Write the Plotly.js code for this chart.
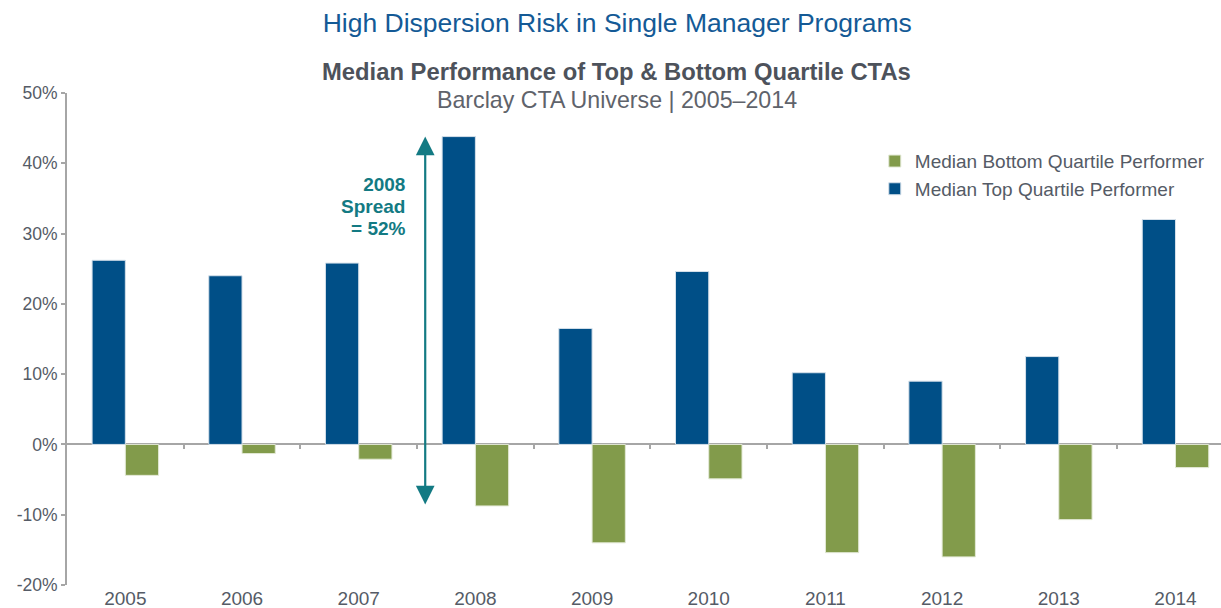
<!DOCTYPE html>
<html>
<head>
<meta charset="utf-8">
<script src="https://cdn.plot.ly/plotly-3.0.1.min.js"></script>
<style>html,body{margin:0;padding:0;background:#fff;}#chart{width:1221px;height:608px;}</style>
</head>
<body>
<div id="chart"></div>
<script>
const years = ["2005","2006","2007","2008","2009","2010","2011","2012","2013","2014"];
const topQuartile = [26.2, 24.0, 25.8, 43.8, 16.5, 24.6, 10.2, 9.0, 12.5, 32.0];
const bottomQuartile = [-4.4, -1.3, -2.1, -8.75, -14.0, -4.9, -15.4, -16.0, -10.7, -3.3];
const yTickVals = [-20, -10, 0, 10, 20, 30, 40, 50];
const yTickText = ["-20%", "-10%", "0%", "10%", "20%", "30%", "40%", "50%"];
const boundaryTicks = [0.5, 1.5, 2.5, 3.5, 4.5, 5.5, 6.5, 7.5, 8.5];
const spreadYear = "2008";
const spreadLines = [spreadYear, "Spread", "= 52%"];

const FONT = "Liberation Sans, Arial, Helvetica, sans-serif";
const TEXT = "#555b66";
const TEAL = "#137a83";

const idx = years.indexOf(spreadYear);
const arrowX = idx - 0.43;

const traces = [
  {type: "bar", name: "Median Top Quartile Performer", x: years, y: topQuartile,
   marker: {color: "#004f87", line: {color: "#d5e0ea", width: 1}}, hoverinfo: "y"},
  {type: "bar", name: "Median Bottom Quartile Performer", x: years, y: bottomQuartile,
   marker: {color: "#829b4b", line: {color: "#e3e9d6", width: 1}}, hoverinfo: "y"},
  {type: "scatter", x: boundaryTicks, y: [0], xaxis: "x2", yaxis: "y", mode: "markers",
   marker: {opacity: 0}, showlegend: false, hoverinfo: "skip"}
];

const annotations = [
  {xref: "paper", yref: "paper", x: 0.4766, y: 1.0 + (93-72)/492, xanchor: "center", yanchor: "middle",
   text: "<b>Median Performance of Top &amp; Bottom Quartile CTAs</b>", showarrow: false,
   font: {family: FONT, size: 23.8, color: "#4d525b"}},
  {xref: "paper", yref: "paper", x: 0.4766, y: 1.0 + (93-100)/492, xanchor: "center", yanchor: "middle",
   text: "Barclay CTA Universe | 2005–2014", showarrow: false,
   font: {family: FONT, size: 23.2, color: "#5f636b"}},
  {xref: "x", yref: "y", axref: "x", ayref: "y",
   x: arrowX, y: topQuartile[idx], ax: arrowX, ay: bottomQuartile[idx],
   showarrow: true, arrowside: "end+start", arrowhead: 2, arrowsize: 1.7, arrowwidth: 2.2,
   arrowcolor: TEAL, text: ""},
  {xref: "x", yref: "y", x: idx - 0.58, y: 33.8, xanchor: "right", yanchor: "middle",
   align: "right", showarrow: false,
   text: spreadLines.map(t => '<span style="font-size:19px"><b>' + t + '</b></span>').join("<br>"),
   font: {family: FONT, size: 17, color: TEAL}}
];

const layout = {
  width: 1221, height: 608,
  margin: {l: 67, r: 0, t: 93, b: 23},
  paper_bgcolor: "#fff", plot_bgcolor: "#fff",
  font: {family: FONT, color: TEXT, size: 16},
  barmode: "group", bargap: 0.43, bargroupgap: 0,
  title: {text: "High Dispersion Risk in Single Manager Programs",
          font: {family: FONT, size: 26.5, color: "#145a96"},
          x: 0.5055, xanchor: "center", y: 0.963, yanchor: "middle"},
  xaxis: {type: "category", range: [-0.5, 9.39], showline: false, showgrid: false,
          ticks: "", tickfont: {size: 19, color: TEXT}, fixedrange: true},
  xaxis2: {overlaying: "x", anchor: "free", position: 20/70, range: [-0.5, 9.39],
           showgrid: false, zeroline: false, showline: false, showticklabels: false,
           tickmode: "array", tickvals: boundaryTicks, ticks: "outside", ticklen: 4,
           tickwidth: 2, tickcolor: "#a6a6a6"},
  yaxis: {range: [-20, 50], tickmode: "array", tickvals: yTickVals, ticktext: yTickText,
          showgrid: false, showline: true, linecolor: "#a6a6a6", linewidth: 2,
          ticks: "outside", ticklen: 4, tickwidth: 2, tickcolor: "#a6a6a6",
          zeroline: true, zerolinecolor: "#a6a6a6", zerolinewidth: 2,
          tickfont: {size: 17.5, color: TEXT}, ticklabelstandoff: 0, fixedrange: true},
  legend: {x: 0.7, y: 0.9, xanchor: "left", yanchor: "top", traceorder: "reversed",
           font: {size: 19, color: TEXT}, bgcolor: "rgba(0,0,0,0)", itemwidth: 30,
           tracegroupgap: 4},
  annotations: annotations
};

Plotly.newPlot("chart", traces, layout, {displayModeBar: false, staticPlot: true});
</script>
</body>
</html>
